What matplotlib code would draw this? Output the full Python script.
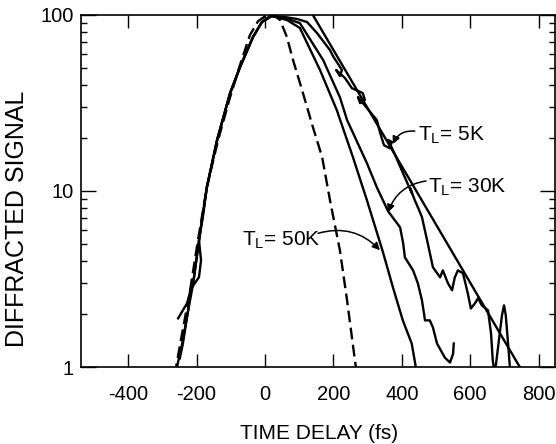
import matplotlib
matplotlib.use("Agg")
import matplotlib.pyplot as plt
from matplotlib.ticker import LogLocator, NullFormatter

plt.rcParams['font.family'] = ['Liberation Sans', 'DejaVu Sans']
plt.rcParams['mathtext.fontset'] = 'custom'
plt.rcParams['mathtext.rm'] = 'Liberation Sans'

# ---- data (time delay in fs, diffracted signal) ----
time_5k = [-254, -228, -210, -190, -170, -140, -102, -73, -35, -9, 20, 58, 94, 123, 152, 190,
           199, 225, 219, 208, 234, 254, 286, 292, 278, 272, 298, 327, 336, 348, 365, 371, 360,
           377, 400, 418, 430, 424, 438, 447, 459, 474, 491, 512, 520, 535, 547, 555, 564, 579,
           593, 602, 614, 623, 634, 652, 661, 666, 671, 675, 684, 693, 699, 704, 710, 716, 719]
sig_5k = [1.89, 2.30, 2.99, 5.75, 10.5, 19.5, 36.0, 50.6, 75.0, 91.2, 98.7, 97.4, 94.9, 91.2, 79.0, 63.2,
          58.4, 48.7, 45.0, 48.7, 43.8, 38.4, 36.0, 32.9, 31.6, 34.2, 29.6, 25.3, 21.6, 18.2, 17.5, 19.0, 19.5,
          16.6, 13.1, 10.9, 9.72, 10.4, 8.87, 8.09, 7.10, 5.25, 3.69, 3.23, 3.54, 2.99, 2.73, 3.23, 3.54, 3.41,
          2.62, 2.15, 2.30, 2.46, 2.24, 2.10, 1.55, 1.09, 0.93, 1.02, 1.42, 1.97, 2.24, 1.97, 1.42, 1.0, 0.86]

time_30k = [-249, -240, -225, -219, -193, -187, -193, -181, -170, -140, -102, -73, -35, -9, 15,
            58, 102, 170, 219, 240, 298, 327, 360, 395, 404, 409, 433, 447, 459, 468, 482, 491,
            503, 526, 541, 550, 552]
sig_30k = [1.12, 1.36, 2.10, 2.73, 3.24, 4.04, 5.25, 7.28, 10.5, 19.5, 36.0, 50.6, 75.0, 91.2, 98.7,
           96.0, 90.0, 55.5, 34.1, 25.3, 14.4, 10.5, 7.67, 6.22, 5.05, 4.20, 3.54, 2.99, 2.39, 1.84, 1.84, 1.68,
           1.36, 1.13, 1.06, 1.19, 1.36]

time_50k = [-260, -254, -243, -210, -190, -170, -140, -102, -73, -35, -9, 20, 64, 102, 161, 210,
            257, 298, 345, 374, 403, 429, 441, 444]
sig_50k = [0.93, 1.07, 1.33, 2.99, 5.75, 10.5, 19.5, 36.0, 50.6, 75.0, 91.2, 98.7, 93.7, 84.4, 48.6, 28.8,
           15.6, 8.87, 4.49, 2.84, 1.84, 1.36, 1.0, 0.9]

time_pulse = [-263, -260, -246, -219, -196, -170, -137, -102, -73, -44, -20, 6, 29, 44, 64, 82,
              111, 140, 167, 190, 219, 240, 263, 269]
sig_pulse = [0.9, 1.0, 1.42, 2.73, 5.25, 10.5, 19.5, 34.2, 52.0, 76.9, 92.4, 100, 98.7, 93.7, 75.0, 55.5,
             36.0, 23.1, 15.6, 8.87, 4.61, 2.39, 1.09, 0.9]

fit_time = [140, 745]
fit_sig = [100, 1]

labels = [r'T$_\mathregular{L}$= 5K', r'T$_\mathregular{L}$= 30K', r'T$_\mathregular{L}$= 50K']
label_pos = [(447, 19.5), (476, 9.84), (-67, 4.92)]
arrow_start = [(438, 21.9), (471, 11.4), (155, 5.75)]
arrow_tip = [(374, 18.5), (360, 7.57), (336, 4.61)]
arrow_rad = [0.35, 0.3, -0.3]

xticks = [-400, -200, 0, 200, 400, 600, 800]
yticks = [1, 10, 100]
ytick_labels = ['1', '10', '100']

# ---- figure ----
fig = plt.figure(figsize=(5.56, 4.44), dpi=100)
ax = fig.add_axes([81 / 556, 77 / 444, 474 / 556, 352 / 444])

lw = 1.7
ax.plot(time_pulse, sig_pulse, color='k', lw=lw, linestyle=(0, (5.0, 2.3)))
ax.plot(time_50k, sig_50k, color='k', lw=lw)
ax.plot(time_30k, sig_30k, color='k', lw=lw)
ax.plot(time_5k, sig_5k, color='k', lw=lw)
ax.plot(fit_time, fit_sig, color='k', lw=lw)

ax.set_yscale('log')
ax.set_xlim(-538, 848)
ax.set_ylim(1, 100)

ax.set_xticks(xticks)
ax.set_xticklabels([str(t) for t in xticks])
ax.set_yticks(yticks)
ax.set_yticklabels(ytick_labels)
ax.yaxis.set_minor_locator(LogLocator(base=10, subs=range(2, 10)))
ax.yaxis.set_minor_formatter(NullFormatter())

ax.tick_params(axis='x', which='major', direction='in', top=True, bottom=True,
               length=9.5, width=1.0, labelsize=14.5, pad=13)
ax.tick_params(axis='y', which='major', direction='in', left=True, right=True,
               length=11, width=1.0, labelsize=14.5, pad=5)
ax.tick_params(axis='y', which='minor', direction='in', left=True, right=True,
               length=4.5, width=1.0)
for s in ax.spines.values():
    s.set_linewidth(1.2)

ax.set_xlabel('TIME DELAY (fs)', fontsize=15)
ax.xaxis.label.set_va('center')
ax.xaxis.set_label_coords(0.502, -0.19)
ax.set_ylabel('DIFFRACTED SIGNAL', fontsize=18)
ax.yaxis.label.set_va('center')
ax.yaxis.set_label_coords(-0.135, 0.42)

for text, pos, st, tip, rad in zip(labels, label_pos, arrow_start, arrow_tip, arrow_rad):
    ax.text(pos[0], pos[1], text, fontsize=15, ha='left', va='baseline')
    ax.annotate('', xy=tip, xytext=st,
                arrowprops=dict(arrowstyle='-|>', connectionstyle=f'arc3,rad={rad}',
                                color='k', lw=1.1, mutation_scale=11,
                                shrinkA=0, shrinkB=0))

fig.savefig('out.png', dpi=100)
